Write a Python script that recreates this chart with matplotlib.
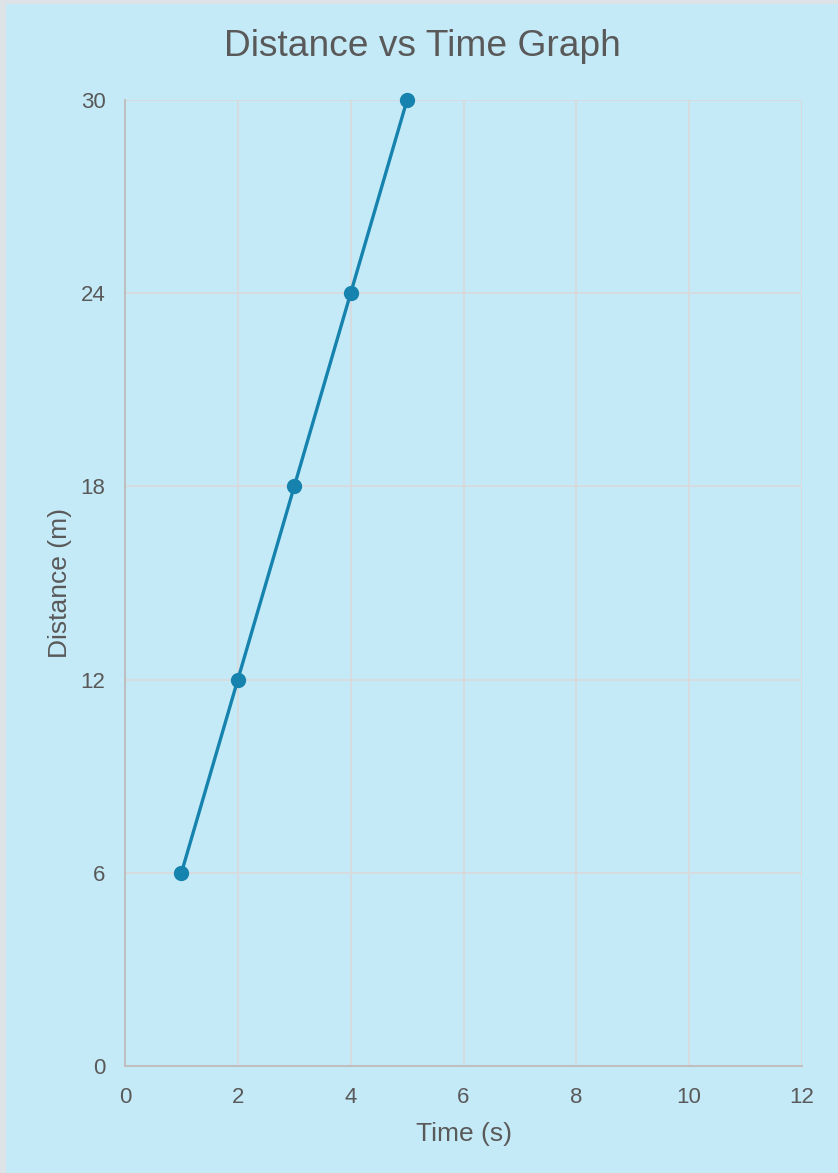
import matplotlib
matplotlib.use("Agg")
import matplotlib.pyplot as plt
from matplotlib.patches import Rectangle

plt.rcParams['font.family'] = ['Liberation Sans', 'DejaVu Sans']

time_s = [1, 2, 3, 4, 5]
distance_m = [6, 12, 18, 24, 30]
x_ticks = [0, 2, 4, 6, 8, 10, 12]
y_ticks = [0, 6, 12, 18, 24, 30]

bg = '#C5EAF7'
text_col = '#595959'
line_col = '#1683AE'

fig = plt.figure(figsize=(8.38, 11.73), dpi=100, facecolor='#DDE3E7')
# light blue panel, leaving a thin grey strip on the left and top
fig.patches.append(Rectangle((6 / 838, 0), 1, 1 - 4 / 1173, transform=fig.transFigure,
                             facecolor=bg, edgecolor='none', zorder=-10))

ax = fig.add_axes([125 / 838, 1 - 1066 / 1173, 677 / 838, 966 / 1173])
ax.set_facecolor(bg)
ax.set_zorder(5)

ax.plot(time_s, distance_m, color=line_col, linewidth=2.4, marker='o',
        markersize=10, clip_on=False, zorder=3)

ax.set_xlim(0, 12)
ax.set_ylim(0, 30)
ax.set_xticks(x_ticks)
ax.set_yticks(y_ticks)
ax.grid(True, color='#D9D9D9', linewidth=1.2)
ax.set_axisbelow(True)

for s in ['top', 'right']:
    ax.spines[s].set_visible(False)
for s in ['left', 'bottom']:
    ax.spines[s].set_color('#BFBFBF')
    ax.spines[s].set_linewidth(1.5)

ax.tick_params(length=0, labelsize=16, labelcolor=text_col)
ax.tick_params(axis='x', pad=15)
ax.tick_params(axis='y', pad=14)

ax.set_xlabel('Time (s)', fontsize=19, color=text_col, labelpad=10)
ax.set_ylabel('Distance (m)', fontsize=19, color=text_col, labelpad=6)
fig.text(0.5 + 3 / 838, 1 - 46 / 1173, 'Distance vs Time Graph', fontsize=26.7,
         color=text_col, ha='center', va='center')

fig.savefig('out.png', dpi=100, facecolor=fig.get_facecolor())
